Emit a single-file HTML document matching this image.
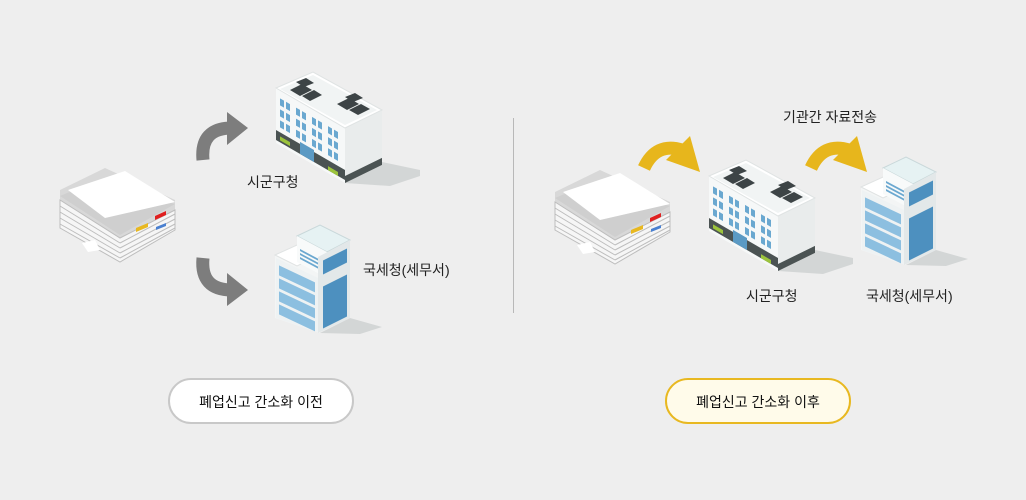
<!DOCTYPE html>
<html><head><meta charset="utf-8"><style>
html,body{margin:0;padding:0;background:#eeeeee;}
body{width:1026px;height:500px;overflow:hidden;position:relative;font-family:"Liberation Sans","Noto Sans CJK KR",sans-serif;}
.t{position:absolute;font-size:14px;color:#222;white-space:nowrap;}
.btn{position:absolute;top:378px;width:186px;height:46px;border-radius:24px;box-sizing:border-box;text-align:center;line-height:44px;font-size:14px;color:#111;}
</style></head><body>
<svg width="1026" height="500" style="position:absolute;left:0;top:0">
<defs>
<g id="paper">
  <polygon points="60,205 130,250 175,222 175,200 105,168 60,190" fill="#d8d8d8"/>
  <g stroke="#bdbdbd" stroke-width="1">
  <polygon points="60,200 120,238 175,210 175,230 120,262 60,228" fill="#f6f6f6"/>
  <line x1="60" y1="206" x2="120" y2="243"/><line x1="120" y1="243" x2="175" y2="214"/>
  <line x1="60" y1="212" x2="120" y2="248"/><line x1="120" y1="248" x2="175" y2="219"/>
  <line x1="60" y1="218" x2="120" y2="253"/><line x1="120" y1="253" x2="175" y2="224"/>
  <line x1="60" y1="224" x2="120" y2="258"/><line x1="120" y1="258" x2="175" y2="228"/>
  </g>
  <polygon points="60,196 98,180 160,200 175,204 120,235" fill="#cfcfcf"/>
  <polygon points="68,190 125,171 175,202 105,218" fill="#ffffff"/>
  <polygon points="155,216 166,211 166,215 155,220" fill="#e02020"/>
  <polygon points="136,228 148,223 148,227 136,232" fill="#e8b820"/>
  <polygon points="156,227 166,223 166,226 156,230" fill="#4a80d0"/>
  <polygon points="82,243 95,240 100,250 88,252" fill="#ffffff"/>
</g>
<g id="box">
  <polygon points="345,183 382,162 420,170 420,176 390,186" fill="#d3d6d6"/>
  <polygon points="345,128 382,110 382,162 345,183" fill="#e9ecec"/>
  <polygon points="276,88 345,128 345,183 276,143" fill="#f6f8f8"/>
  <polygon points="276,88 313,72 382,110 345,128" fill="#ffffff" stroke="#dfe3e3"/>
  <polygon points="280,89 313,75 377,110 345,125" fill="#f1f4f4"/>
  <g transform="matrix(1,0.58,0,1,276,88)">
    <rect x="0" y="42" width="69" height="10" fill="#4b5353"/>
    <g fill="#6aa8d0">
      <rect x="4" y="8" width="4" height="7"/><rect x="10" y="8" width="4" height="7"/><rect x="20" y="8" width="4" height="7"/><rect x="26" y="8" width="4" height="7"/><rect x="36" y="8" width="4" height="7"/><rect x="42" y="8" width="4" height="7"/><rect x="52" y="8" width="4" height="7"/><rect x="58" y="8" width="4" height="7"/>
      <rect x="4" y="19" width="4" height="7"/><rect x="10" y="19" width="4" height="7"/><rect x="20" y="19" width="4" height="7"/><rect x="26" y="19" width="4" height="7"/><rect x="36" y="19" width="4" height="7"/><rect x="42" y="19" width="4" height="7"/><rect x="52" y="19" width="4" height="7"/><rect x="58" y="19" width="4" height="7"/>
      <rect x="4" y="30" width="4" height="7"/><rect x="10" y="30" width="4" height="7"/><rect x="20" y="30" width="4" height="7"/><rect x="26" y="30" width="4" height="7"/><rect x="36" y="30" width="4" height="7"/><rect x="42" y="30" width="4" height="7"/><rect x="52" y="30" width="4" height="7"/><rect x="58" y="30" width="4" height="7"/>
    </g>
    <rect x="24" y="40" width="14" height="12" fill="#5b9ac4"/>
    <rect x="4" y="46" width="10" height="4" fill="#9cc43c"/><rect x="52" y="48" width="10" height="4" fill="#9cc43c"/>
  </g>
  <g transform="matrix(1,-0.49,0,1,345,128)">
    <rect x="0" y="48" width="37" height="7" fill="#4b5353"/>
  </g>
  <g fill="#3d4446">
    <polygon points="290,90 302,84 312,90 300,96"/><polygon points="302,96 314,90 322,95 310,101"/>
    <polygon points="296,82 306,78 314,83 304,87"/>
    <polygon points="337,104 349,98 359,104 347,110"/><polygon points="349,110 361,104 370,109 358,115"/><polygon points="345,97 355,93 363,98 353,102"/>
  </g>
</g>
<g id="tall">
  <polygon points="320,333 350,318 382,327 360,334" fill="#d3d6d6"/>
  <polygon points="275,255 297,245 320,258 320,333 275,318" fill="#f3f5f5"/>
  <polygon points="275,255 297,245 318,256 297,266" fill="#ffffff" stroke="#e0e3e3"/>
  <polygon points="276,258 318,278 318,332 276,318" fill="#eef2f3"/>
  <g transform="matrix(1,0.47,0,1,276,258)" fill="#8cbfe0">
    <rect x="3" y="6" width="36" height="10"/><rect x="3" y="19" width="36" height="10"/><rect x="3" y="32" width="36" height="10"/><rect x="3" y="45" width="36" height="10"/>
  </g>
  <polygon points="297,236 320,225 350,240 327,252" fill="#e6f2f3" stroke="#c9d8da"/>
  <polygon points="297,236 327,252 327,278 297,262" fill="#f8fafa"/>
  <g transform="matrix(1,0.53,0,1,298,240)" fill="#6ba8d0"><rect x="2" y="8" width="26" height="2"/><rect x="2" y="12" width="26" height="2"/><rect x="2" y="16" width="26" height="2"/></g>
  <polygon points="318,257 350,240 350,318 318,333" fill="#e3e8e9"/>
  <g transform="matrix(1,-0.5,0,1,320,258)" fill="#4d90bf">
    <rect x="3" y="4" width="24" height="14"/>
    <rect x="3" y="30" width="24" height="42"/>
  </g>
</g>
<g id="garrow">
  <path d="M203,160 Q200,128 232,128" fill="none" stroke="#7d7d7d" stroke-width="13"/>
  <polygon points="227,112 248,128 227,145" fill="#7d7d7d"/>
</g>
<g id="yarrow">
  <path d="M644,168 Q656,142 682,150" fill="none" stroke="#e7b61c" stroke-width="13"/>
  <polygon points="666,160 690,136 700,172" fill="#e7b61c"/>
</g>
</defs>
<use href="#paper"/>
<use href="#paper" transform="translate(495,2)"/>
<use href="#garrow"/>
<use href="#garrow" transform="translate(0,418) scale(1,-1)"/>
<use href="#box"/>
<use href="#tall"/>
<use href="#box" transform="translate(433,88)"/>
<use href="#tall" transform="translate(586,-68)"/>
<use href="#yarrow"/>
<use href="#yarrow" transform="translate(167,0)"/>
<line x1="513.5" y1="118" x2="513.5" y2="313" stroke="#b8b8b8" stroke-width="1"/>
</svg>
<div class="t" style="left:247px;top:172px">시군구청</div>
<div class="t" style="left:363px;top:260px">국세청(세무서)</div>
<div class="t" style="left:783px;top:107px">기관간 자료전송</div>
<div class="t" style="left:746px;top:286px">시군구청</div>
<div class="t" style="left:866px;top:286px">국세청(세무서)</div>
<div class="btn" style="left:168px;background:#fff;border:2px solid #c8c8c8">폐업신고 간소화 이전</div>
<div class="btn" style="left:665px;background:#fffbea;border:2px solid #e8b820">폐업신고 간소화 이후</div>
</body></html>
